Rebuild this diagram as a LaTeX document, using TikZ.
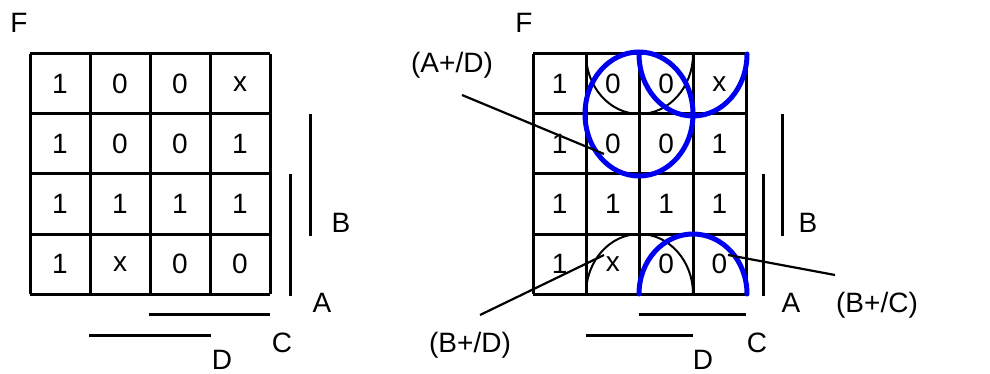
\documentclass[tikz,border=0pt]{standalone}
\usepackage{fontspec}
\setmainfont{Liberation Sans}
\definecolor{loopblue}{RGB}{0,0,240}
\begin{document}
\begin{tikzpicture}[x=1pt,y=-1pt,
  gridline/.style={line width=3pt},
  barline/.style={line width=3pt},
  arcline/.style={line width=2pt},
  loopline/.style={line width=5pt,loopblue,line cap=round},
  leader/.style={line width=2.2pt},
  txt/.style={font=\fontsize{28}{30}\selectfont, inner sep=0pt},
  cell/.style={txt, minimum width=50pt, minimum height=56pt}]
\useasboundingbox (0,0) rectangle (990,374);
% ---------- left map ----------
\foreach \xx in {30,90,150,210,270} \draw[gridline] (\xx,54) -- (\xx,294);
\foreach \yy in {54,114,174,234,294} \draw[gridline] (30,\yy) -- (270,\yy);
\foreach \r/\vals in {1/{1,0,0,x},2/{1,0,0,1},3/{1,1,1,1},4/{1,x,0,0}}{
  \foreach \v [count=\c] in \vals {
    \node[cell] (L\r\c) at ({30+60*\c-30},{54+60*\r-30}) {\v};
  }
}
\node[txt] (LF) at (19,23) {F};
\node[txt] (LB) at (341,223) {B};
\node[txt] (LA) at (322,303) {A};
\node[txt] (LC) at (282,343) {C};
\node[txt] (LD) at (222,360) {D};
\draw[barline] (310,114) -- (310,236);
\draw[barline] (290,174) -- (290,296);
\draw[barline] (149,314) -- (270,314);
\draw[barline] (89,335) -- (211,335);
% ---------- right map ----------
\foreach \xx in {533,586,639,693,746} \draw[gridline] (\xx,54) -- (\xx,294);
\foreach \yy in {54,114,174,234,294} \draw[gridline] (533,\yy) -- (746,\yy);
\foreach \r/\vals in {1/{1,0,0,x},2/{1,0,0,1},3/{1,1,1,1},4/{1,x,0,0}}{
  \foreach \v [count=\c] in \vals {
    \node[cell] (R\r\c) at ({533+53.25*\c-26.6},{54+60*\r-30}) {\v};
  }
}
\node[txt] (RF) at (524,23) {F};
\node[txt] (RB) at (808,223) {B};
\node[txt] (RA) at (791,303) {A};
\node[txt] (RC) at (757,343) {C};
\node[txt] (RD) at (703,360) {D};
\draw[barline] (782,114) -- (782,236);
\draw[barline] (763,174) -- (763,296);
\draw[barline] (639,314) -- (746,314);
\draw[barline] (586,335) -- (693,335);
% black group arcs
\draw[arcline] (586,54) arc[start angle=180,end angle=0,x radius=53.5,y radius=60];
\draw[arcline] (586,294) arc[start angle=180,end angle=360,x radius=53.5,y radius=60];
% blue loops
\draw[loopline] (639,114) ellipse[x radius=54,y radius=62];
\draw[loopline] (639,54) arc[start angle=180,end angle=0,x radius=54,y radius=62];
\draw[loopline] (639,294) arc[start angle=180,end angle=360,x radius=54,y radius=60];
% labels and leaders
\node[txt] (AD) at (452,65) {(A+/D)};
\node[txt] (BD) at (470,345) {(B+/D)};
\node[txt] (BC) at (877,305) {(B+/C)};
\coordinate (ADs) at (462,95);
\coordinate (ADe) at (604,154);
\coordinate (BDs) at (480,315);
\coordinate (BDe) at (604,255);
\coordinate (BCs) at (835,275);
\coordinate (BCe) at (728,255);
\draw[leader] (ADs) -- (ADe);
\draw[leader] (BDs) -- (BDe);
\draw[leader] (BCs) -- (BCe);
\end{tikzpicture}
\end{document}
